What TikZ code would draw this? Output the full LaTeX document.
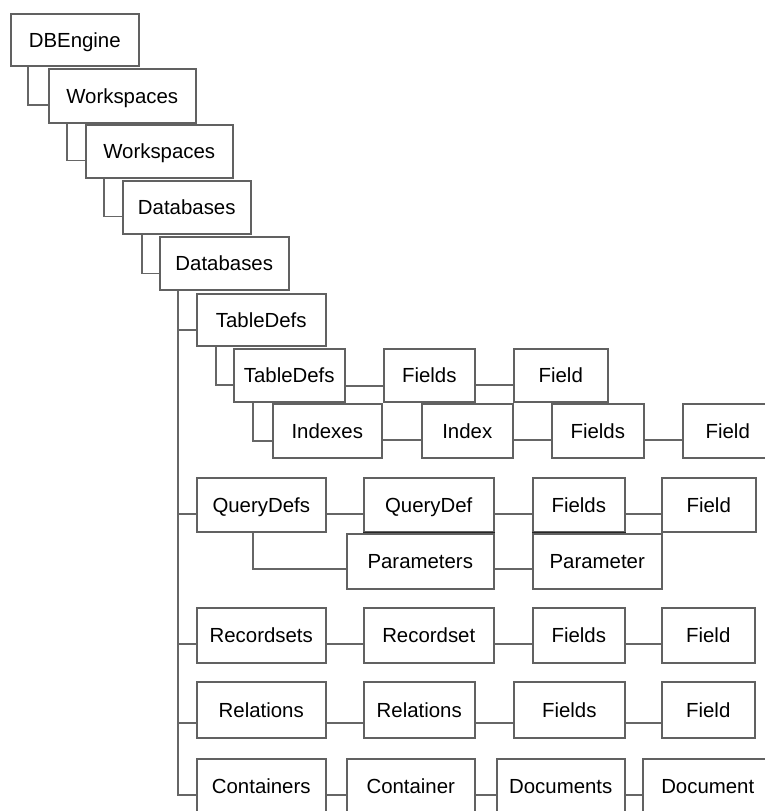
\documentclass[tikz,border=0pt]{standalone}
\usepackage{fontspec}
\setmainfont{Liberation Sans}
\usetikzlibrary{shadows}
\tikzset{
  box/.style={draw=black!62, line width=1.5pt, fill=white, anchor=north west,
    inner sep=0pt, text height=14.6pt, text depth=0pt, font=\fontsize{20.4}{24}\selectfont,
    drop shadow={shadow xshift=1.4pt, shadow yshift=-1.4pt, fill=black!30, opacity=0.6}},
  conn/.style={draw=black!60, line width=1.5pt},
  darkedge/.style={draw=black!85, line width=1.5pt}
}
\newcommand\bx[6]{\node[box, minimum width={(#4-#2)*1pt}, minimum height={(#5-#3)*1pt}] (#1) at (#2,#3) {#6};}
\begin{document}
\begin{tikzpicture}[x=1pt,y=-1pt]
\fill[white] (0,0) rectangle (765,811);
\useasboundingbox (0,0) rectangle (765,811);
% cascade
\bx{db}{10}{13}{138}{65}{DBEngine}
\bx{wsa}{48}{68}{195}{122}{Workspaces}
\bx{wsb}{85}{124}{232}{177}{Workspaces}
\bx{dba}{122}{180}{250}{233}{Databases}
\bx{dbb}{159}{236}{288}{289}{Databases}
% tabledefs branch
\bx{tda}{196}{293}{325}{345}{TableDefs}
\bx{tdb}{233}{348}{344}{401}{TableDefs}
\bx{tf}{383}{348}{474}{401}{Fields}
\bx{tfd}{513}{348}{607}{401}{Field}
\bx{ix}{272}{403}{381}{457}{Indexes}
\bx{ixi}{421}{403}{512}{457}{Index}
\bx{ixf}{551}{403}{643}{457}{Fields}
\bx{ixfd}{682}{403}{772}{457}{Field}
% querydefs branch
\bx{qd}{196}{477}{325}{531}{QueryDefs}
\bx{qdd}{363}{477}{493}{531}{QueryDef}
\bx{qf}{532}{477}{624}{531}{Fields}
\bx{qfd}{661}{477}{755}{531}{Field}
\bx{pars}{346}{533}{493}{588}{Parameters}
\bx{par}{532}{533}{661}{588}{Parameter}
% recordsets
\bx{rs}{196}{607}{325}{662}{Recordsets}
\bx{rsr}{363}{607}{493}{662}{Recordset}
\bx{rsf}{532}{607}{624}{662}{Fields}
\bx{rsfd}{661}{607}{754}{662}{Field}
% relations
\bx{rel}{196}{681}{325}{737}{Relations}
\bx{relr}{363}{681}{474}{737}{Relations}
\bx{relf}{513}{681}{624}{737}{Fields}
\bx{relfd}{661}{681}{754}{737}{Field}
% containers
\bx{con}{196}{758}{325}{812}{Containers}
\bx{conc}{346}{758}{474}{812}{Container}
\bx{doc}{496}{758}{624}{812}{Documents}
\bx{docd}{642}{758}{772}{812}{Document}
% dark edges
\draw[darkedge] (qdd.south west) -- (qdd.south east);
\draw[darkedge] (qf.south west) -- (qf.south east);
% cascade connectors
\draw[conn] (db.south west) ++(18,0) |- ([yshift=-9pt]wsa.west);
\draw[conn] (wsa.south west) ++(19,0) |- ([yshift=-9pt]wsb.west);
\draw[conn] (wsb.south west) ++(19,0) |- ([yshift=-9pt]dba.west);
\draw[conn] (dba.south west) ++(20,0) |- ([yshift=-10pt]dbb.west);
% trunk from Databases
\draw[conn] (dbb.south west) ++(19,0) coordinate (trunk) |- ([yshift=-10pt]tda.west);
\draw[conn] (trunk) |- ([yshift=-9pt]qd.west);
\draw[conn] (trunk) |- ([yshift=-8.5pt]rs.west);
\draw[conn] (trunk) |- ([yshift=-13pt]rel.west);
\draw[conn] (trunk) |- ([yshift=-9pt]con.west);
% tabledefs
\draw[conn] (tda.south west) ++(20,0) |- ([yshift=-9.5pt]tdb.west);
\draw[conn] (tdb.south west) ++(20,0) |- ([yshift=-10pt]ix.west);
\draw[conn] ([yshift=-10.5pt]tdb.east) -- ([yshift=-10.5pt]tf.west);
\draw[conn] ([yshift=-9.5pt]tf.east) -- ([yshift=-9.5pt]tfd.west);
\draw[conn] ([yshift=-9pt]ix.east) -- ([yshift=-9pt]ixi.west);
\draw[conn] ([yshift=-9pt]ixi.east) -- ([yshift=-9pt]ixf.west);
\draw[conn] ([yshift=-9pt]ixf.east) -- ([yshift=-9pt]ixfd.west);
% querydefs
\draw[conn] ([yshift=-9pt]qd.east) -- ([yshift=-9pt]qdd.west);
\draw[conn] ([yshift=-9pt]qdd.east) -- ([yshift=-9pt]qf.west);
\draw[conn] ([yshift=-9pt]qf.east) -- ([yshift=-9pt]qfd.west);
\draw[conn] (qd.south west) ++(57,0) |- ([yshift=-7.5pt]pars.west);
\draw[conn] ([yshift=-7.5pt]pars.east) -- ([yshift=-7.5pt]par.west);
% recordsets
\draw[conn] ([yshift=-8.5pt]rs.east) -- ([yshift=-8.5pt]rsr.west);
\draw[conn] ([yshift=-8.5pt]rsr.east) -- ([yshift=-8.5pt]rsf.west);
\draw[conn] ([yshift=-8.5pt]rsf.east) -- ([yshift=-8.5pt]rsfd.west);
% relations
\draw[conn] ([yshift=-13pt]rel.east) -- ([yshift=-13pt]relr.west);
\draw[conn] ([yshift=-13pt]relr.east) -- ([yshift=-13pt]relf.west);
\draw[conn] ([yshift=-13pt]relf.east) -- ([yshift=-13pt]relfd.west);
% containers
\draw[conn] ([yshift=-9pt]con.east) -- ([yshift=-9pt]conc.west);
\draw[conn] ([yshift=-9pt]conc.east) -- ([yshift=-9pt]doc.west);
\draw[conn] ([yshift=-9pt]doc.east) -- ([yshift=-9pt]docd.west);
\end{tikzpicture}
\end{document}
